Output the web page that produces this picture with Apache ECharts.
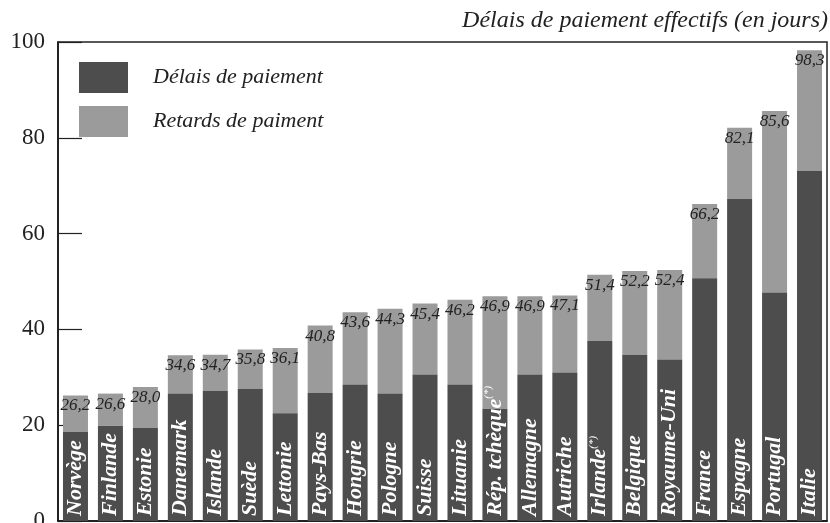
<!DOCTYPE html>
<html>
<head>
<meta charset="utf-8">
<script src="https://cdn.jsdelivr.net/npm/echarts@6/dist/echarts.min.js"></script>
<style>
  html, body { margin: 0; padding: 0; background: #fff; }
  #chart { width: 830px; height: 523px; }
</style>
</head>
<body>
<div id="chart"></div>
<script>
const countries = ['Norvège', 'Finlande', 'Estonie', 'Danemark', 'Islande', 'Suède', 'Lettonie', 'Pays-Bas',
  'Hongrie', 'Pologne', 'Suisse', 'Lituanie', 'Rép. tchèque', 'Allemagne', 'Autriche', 'Irlande',
  'Belgique', 'Royaume-Uni', 'France', 'Espagne', 'Portugal', 'Italie']
// countries with a (*) note
const starred = ['Rép. tchèque', 'Irlande']
// effective payment delay (total), as printed on top of each bar
const totals = [26.2, 26.6, 28.0, 34.6, 34.7, 35.8, 36.1, 40.8, 43.6, 44.3, 45.4, 46.2, 46.9, 46.9, 47.1,
  51.4, 52.2, 52.4, 66.2, 82.1, 85.6, 98.3]
// contractual payment delay (dark part)
const delais = [18.6, 19.9, 19.4, 26.6, 27.2, 27.6, 22.5, 26.7, 28.5, 26.6, 30.6, 28.5, 23.4, 30.6, 31.0,
  37.6, 34.7, 33.7, 50.7, 67.2, 47.7, 73.1]
const yTicks = [0, 20, 40, 60, 80, 100]

const retards = totals.map((t, i) => +(t - delais[i]).toFixed(1))

const serif = "'Liberation Serif', 'Times New Roman', serif"
const chart = echarts.init(document.getElementById('chart'))

const option = {
  animation: false,
  title: {
    text: 'Délais de paiement effectifs (en jours)',
    right: 2,
    top: 9,
    padding: 0,
    textStyle: { fontFamily: serif, fontStyle: 'italic', fontWeight: 'normal', fontSize: 24, color: '#222' }
  },
  legend: {
    orient: 'vertical',
    left: 79,
    top: 62,
    padding: 0,
    itemWidth: 49,
    itemHeight: 31,
    itemGap: 13,
    icon: 'rect',
    textStyle: { fontFamily: serif, fontStyle: 'italic', fontSize: 22, color: '#222', padding: [0, 0, 0, 20] },
    data: ['Délais de paiement', 'Retards de paiment']
  },
  grid: {
    left: 58,
    right: 3,
    top: 42,
    bottom: 2,
    outerBoundsMode: 'none',
    show: true,
    borderColor: '#222',
    borderWidth: 1.5
  },
  xAxis: {
    type: 'category',
    data: countries,
    axisLine: { lineStyle: { color: '#111', width: 1.5 } },
    axisTick: { show: false },
    axisLabel: { show: false }
  },
  yAxis: {
    type: 'value',
    min: yTicks[0],
    max: yTicks[yTicks.length - 1],
    interval: 20,
    axisLine: { show: true, lineStyle: { color: '#111', width: 1.5 } },
    axisTick: { show: true, inside: true, length: 24, lineStyle: { color: '#222', width: 1.2 } },
    splitLine: { show: false },
    axisLabel: { fontFamily: serif, fontSize: 23, color: '#222', margin: 13 }
  },
  series: [
    {
      name: 'Délais de paiement',
      type: 'bar',
      stack: 'total',
      barWidth: 25,
      z: 3,
      itemStyle: { color: '#4d4d4d' },
      label: {
        show: true,
        position: 'insideBottom',
        distance: 5,
        rotate: 90,
        align: 'left',
        verticalAlign: 'middle',
        formatter: p => starred.includes(p.name) ? '{n|' + p.name + '}{s|(*)}' : '{n|' + p.name + '}',
        rich: {
          n: { fontFamily: serif, fontStyle: 'italic', fontWeight: 'bold', fontSize: 22, color: '#fff', lineHeight: 24 },
          s: { fontFamily: serif, fontStyle: 'italic', fontSize: 11, color: '#fff', verticalAlign: 'top' }
        }
      },
      data: delais
    },
    {
      name: 'Retards de paiment',
      type: 'bar',
      stack: 'total',
      barWidth: 25,
      z: 2,
      itemStyle: { color: '#9b9b9b' },
      label: {
        show: true,
        position: 'insideTop',
        distance: 2,
        fontFamily: serif,
        fontStyle: 'italic',
        fontSize: 17,
        color: '#222',
        formatter: p => totals[p.dataIndex].toFixed(1).replace('.', ',')
      },
      data: retards
    }
  ]
}
chart.setOption(option)
</script>
</body>
</html>
